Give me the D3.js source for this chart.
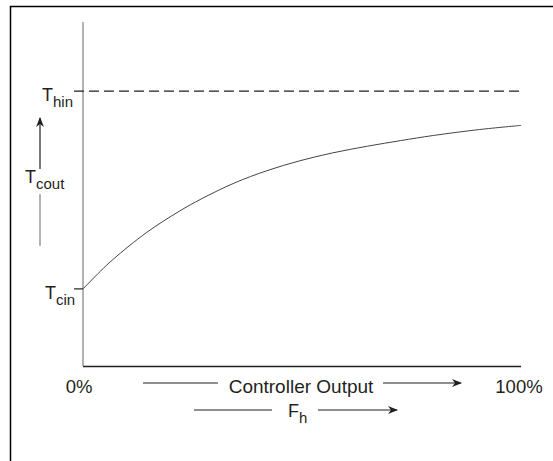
<!DOCTYPE html>
<html>
<head>
<meta charset="utf-8">
<script src="https://cdn.jsdelivr.net/npm/d3@7"></script>
<style>
  body { margin: 0; background: #fff; }
  svg { display: block; font-family: "Liberation Sans", Arial, sans-serif; }
</style>
</head>
<body>
<svg id="chart" width="553" height="461"></svg>
<script>
// Controller output (%) and outlet temperature, scaled so Tcin = 0 and Thin = 1
const outputPct = [0, 4, 7, 14.5, 22, 27, 34.5, 42, 49.5, 57, 65, 72.5, 80, 90.5, 100];
const tcout = [0, 0.09, 0.152, 0.285, 0.393, 0.455, 0.535, 0.598, 0.648, 0.688, 0.722, 0.75, 0.776, 0.806, 0.827];
const levelValues = [0, 1];           // Tcin, Thin
const levelNames = ["cin", "hin"];
const xTickValues = [0, 100];
const xTickLabels = ["0%", "100%"];

const svg = d3.select("#chart");
const ink = "#231f20";

// Scales
const x = d3.scaleLinear().domain([0, 100]).range([83, 521]);
const y = d3.scaleLinear().domain([-0.39, 1.35]).range([366, 22]);

// Arrow marker
svg.append("defs").append("marker")
    .attr("id", "arrow")
    .attr("viewBox", "0 -5 10 10")
    .attr("refX", 9)
    .attr("refY", 0)
    .attr("markerWidth", 10)
    .attr("markerHeight", 10)
    .attr("markerUnits", "userSpaceOnUse")
    .attr("orient", "auto")
    .append("path")
    .attr("d", "M0,-4L10,0L0,4L3,0Z")
    .attr("fill", ink);

// Frame (left and top edges only)
svg.append("path")
    .attr("d", "M10.5,461V6.5H553")
    .attr("fill", "none")
    .attr("stroke", "#000")
    .attr("stroke-width", 1.5);

// Y axis (grey) and X axis
svg.append("line")
    .attr("x1", x(0)).attr("x2", x(0))
    .attr("y1", y.range()[1]).attr("y2", y.range()[0])
    .attr("stroke", "#b3b3b3")
    .attr("stroke-width", 2);

svg.append("line")
    .attr("x1", x(0)).attr("x2", x(100))
    .attr("y1", y.range()[0] + 0.5).attr("y2", y.range()[0] + 0.5)
    .attr("stroke", ink)
    .attr("stroke-width", 1.3);

// Thin dashed line and Tcin tick
svg.append("line")
    .attr("x1", x(0) - 9).attr("x2", x(100))
    .attr("y1", y(1)).attr("y2", y(1))
    .attr("stroke", ink)
    .attr("stroke-width", 1.2)
    .attr("stroke-dasharray", "10,5");

svg.append("line")
    .attr("x1", x(0) - 9).attr("x2", x(0))
    .attr("y1", y(0)).attr("y2", y(0))
    .attr("stroke", ink)
    .attr("stroke-width", 1.2);

// Curve
const line = d3.line()
    .x((d, i) => x(outputPct[i]))
    .y(d => y(d))
    .curve(d3.curveCatmullRom.alpha(0.5));

svg.append("path")
    .datum(tcout)
    .attr("d", line)
    .attr("fill", "none")
    .attr("stroke", "#444")
    .attr("stroke-width", 1);

// Level labels (T with subscript)
function subLabel(xPos, yPos, sub) {
    const t = svg.append("text")
        .attr("x", xPos)
        .attr("y", yPos)
        .attr("font-size", 18)
        .attr("fill", ink)
        .text("T");
    t.append("tspan")
        .attr("dy", 6)
        .attr("font-size", 15)
        .text(sub);
}

levelValues.forEach((v, i) => {
    subLabel(i === 0 ? 45 : 42, y(v) + 10, levelNames[i]);
});
subLabel(25, 183, "cout");

// Tcout arrow and grey line
svg.append("line")
    .attr("x1", 40).attr("x2", 40)
    .attr("y1", 169).attr("y2", 118)
    .attr("stroke", ink)
    .attr("stroke-width", 1.2)
    .attr("marker-end", "url(#arrow)");

svg.append("line")
    .attr("x1", 40).attr("x2", 40)
    .attr("y1", 194).attr("y2", 246)
    .attr("stroke", "#b3b3b3")
    .attr("stroke-width", 2);

// X tick labels
svg.selectAll(".xlabel")
    .data(xTickValues)
    .join("text")
    .attr("class", "xlabel")
    .attr("x", (d, i) => x(d) + (i === 0 ? -4 : -2))
    .attr("y", 393)
    .attr("text-anchor", "middle")
    .attr("font-size", 18.5)
    .attr("fill", ink)
    .text((d, i) => xTickLabels[i]);

// Controller Output label with arrows
svg.append("text")
    .attr("x", 301)
    .attr("y", 393)
    .attr("text-anchor", "middle")
    .attr("font-size", 19)
    .attr("fill", ink)
    .text("Controller Output");

svg.append("line")
    .attr("x1", 143).attr("x2", 218)
    .attr("y1", 383).attr("y2", 383)
    .attr("stroke", ink).attr("stroke-width", 1.2);

svg.append("line")
    .attr("x1", 383).attr("x2", 461)
    .attr("y1", 383).attr("y2", 383)
    .attr("stroke", ink).attr("stroke-width", 1.2)
    .attr("marker-end", "url(#arrow)");

// Fh label with arrows
const fh = svg.append("text")
    .attr("x", 288)
    .attr("y", 417)
    .attr("font-size", 18)
    .attr("fill", ink)
    .text("F");
fh.append("tspan").attr("dy", 6).attr("font-size", 15).text("h");

svg.append("line")
    .attr("x1", 194).attr("x2", 272)
    .attr("y1", 410).attr("y2", 410)
    .attr("stroke", ink).attr("stroke-width", 1.2);

svg.append("line")
    .attr("x1", 318).attr("x2", 397)
    .attr("y1", 410).attr("y2", 410)
    .attr("stroke", ink).attr("stroke-width", 1.2)
    .attr("marker-end", "url(#arrow)");
</script>
</body>
</html>
